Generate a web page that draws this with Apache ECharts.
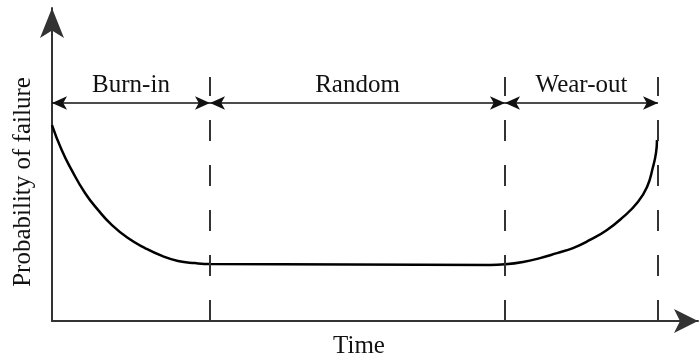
<!DOCTYPE html>
<html>
<head>
<meta charset="utf-8">
<script src="https://cdn.jsdelivr.net/npm/echarts@6/dist/echarts.min.js"></script>
<style>
  html, body { margin: 0; padding: 0; background: #fff; }
  #bathtub { width: 699px; height: 358px; }
</style>
</head>
<body>
<div id="bathtub"></div>
<script>
// failure curve (time 0-100, probability 0-100)
const curveTime = [0, 1.5, 3.05, 5.11, 7.12, 9.24, 11.76, 14.4, 17.03, 19.5, 22.14, 24.57, 46.13, 67.8, 70.12, 72.91, 75.54, 78.17, 80.65, 83.28, 85.91, 88.39, 90.56, 92.11, 93.03, 93.5, 93.65];
const curveProb = [62.6, 54.6, 48.2, 40.9, 35.5, 30.7, 26.5, 23.3, 20.8, 19.2, 18.5, 18.2, 18.05, 17.9, 18.1, 18.85, 20.1, 21.7, 23.3, 25.9, 29.1, 33.2, 37.7, 42.8, 49.2, 53.7, 57.8];

// phase boundaries and names
const boundaries = [0, 24.46, 70.12, 93.81];
const phaseNames = ['Burn-in', 'Random', 'Wear-out'];
const arrowLevel = 69.65;
const dashTop = 77.96;

const font = 'Liberation Serif';

const chart = echarts.init(document.getElementById('bathtub'));

// dashed vertical lines at each boundary (not at the y axis)
const dashLines = boundaries.slice(1).map(x => [
    {coord: [x, 0]},
    {coord: [x, dashTop]}
]);

// double arrows for each phase
const phaseArrows = phaseNames.map((name, i) => [
    {coord: [boundaries[i], arrowLevel], name: name},
    {coord: [boundaries[i + 1], arrowLevel]}
]);

const option = {
    animation: false,
    grid: {left: 52, right: 1, top: 8, bottom: 37, outerBoundsMode: 'none'},
    xAxis: {
        type: 'value',
        min: 0, max: 100,
        name: 'Time',
        nameLocation: 'middle',
        nameGap: 13,
        nameTextStyle: {fontFamily: font, fontSize: 25, color: '#111', padding: [0, 32, 0, 0]},
        axisLine: {
            symbol: ['none', 'arrow'],
            symbolSize: [18, 24],
            lineStyle: {color: '#333', width: 2}
        },
        axisTick: {show: false},
        axisLabel: {show: false},
        splitLine: {show: false}
    },
    yAxis: {
        type: 'value',
        min: 0, max: 100,
        name: 'Probability of failure',
        nameLocation: 'middle',
        nameGap: 16,
        nameTextStyle: {fontFamily: font, fontSize: 25, color: '#111', padding: [0, 35, 0, 0]},
        axisLine: {
            show: true,
            symbol: ['none', 'arrow'],
            symbolSize: [18, 30],
            lineStyle: {color: '#333', width: 2}
        },
        axisTick: {show: false},
        axisLabel: {show: false},
        splitLine: {show: false}
    },
    series: [
        {
            type: 'line',
            data: curveTime.map((t, i) => [t, curveProb[i]]),
            smooth: 0.5,
            showSymbol: false,
            lineStyle: {color: '#000', width: 2.5},
            markLine: {
                silent: true,
                symbol: ['none', 'none'],
                label: {show: false},
                lineStyle: {color: '#333', width: 2, type: [21, 24]},
                data: dashLines
            }
        },
        {
            type: 'line',
            data: [],
            markLine: {
                silent: true,
                symbol: ['arrow', 'arrow'],
                symbolSize: [10, 15],
                lineStyle: {color: '#111', width: 1.5, type: 'solid'},
                label: {
                    show: true,
                    position: 'insideMiddleTop',
                    distance: 5,
                    formatter: '{b}',
                    fontFamily: font,
                    fontSize: 25,
                    color: '#111'
                },
                data: phaseArrows
            }
        }
    ]
};

chart.setOption(option);
window.addEventListener('resize', () => chart.resize());
</script>
</body>
</html>
